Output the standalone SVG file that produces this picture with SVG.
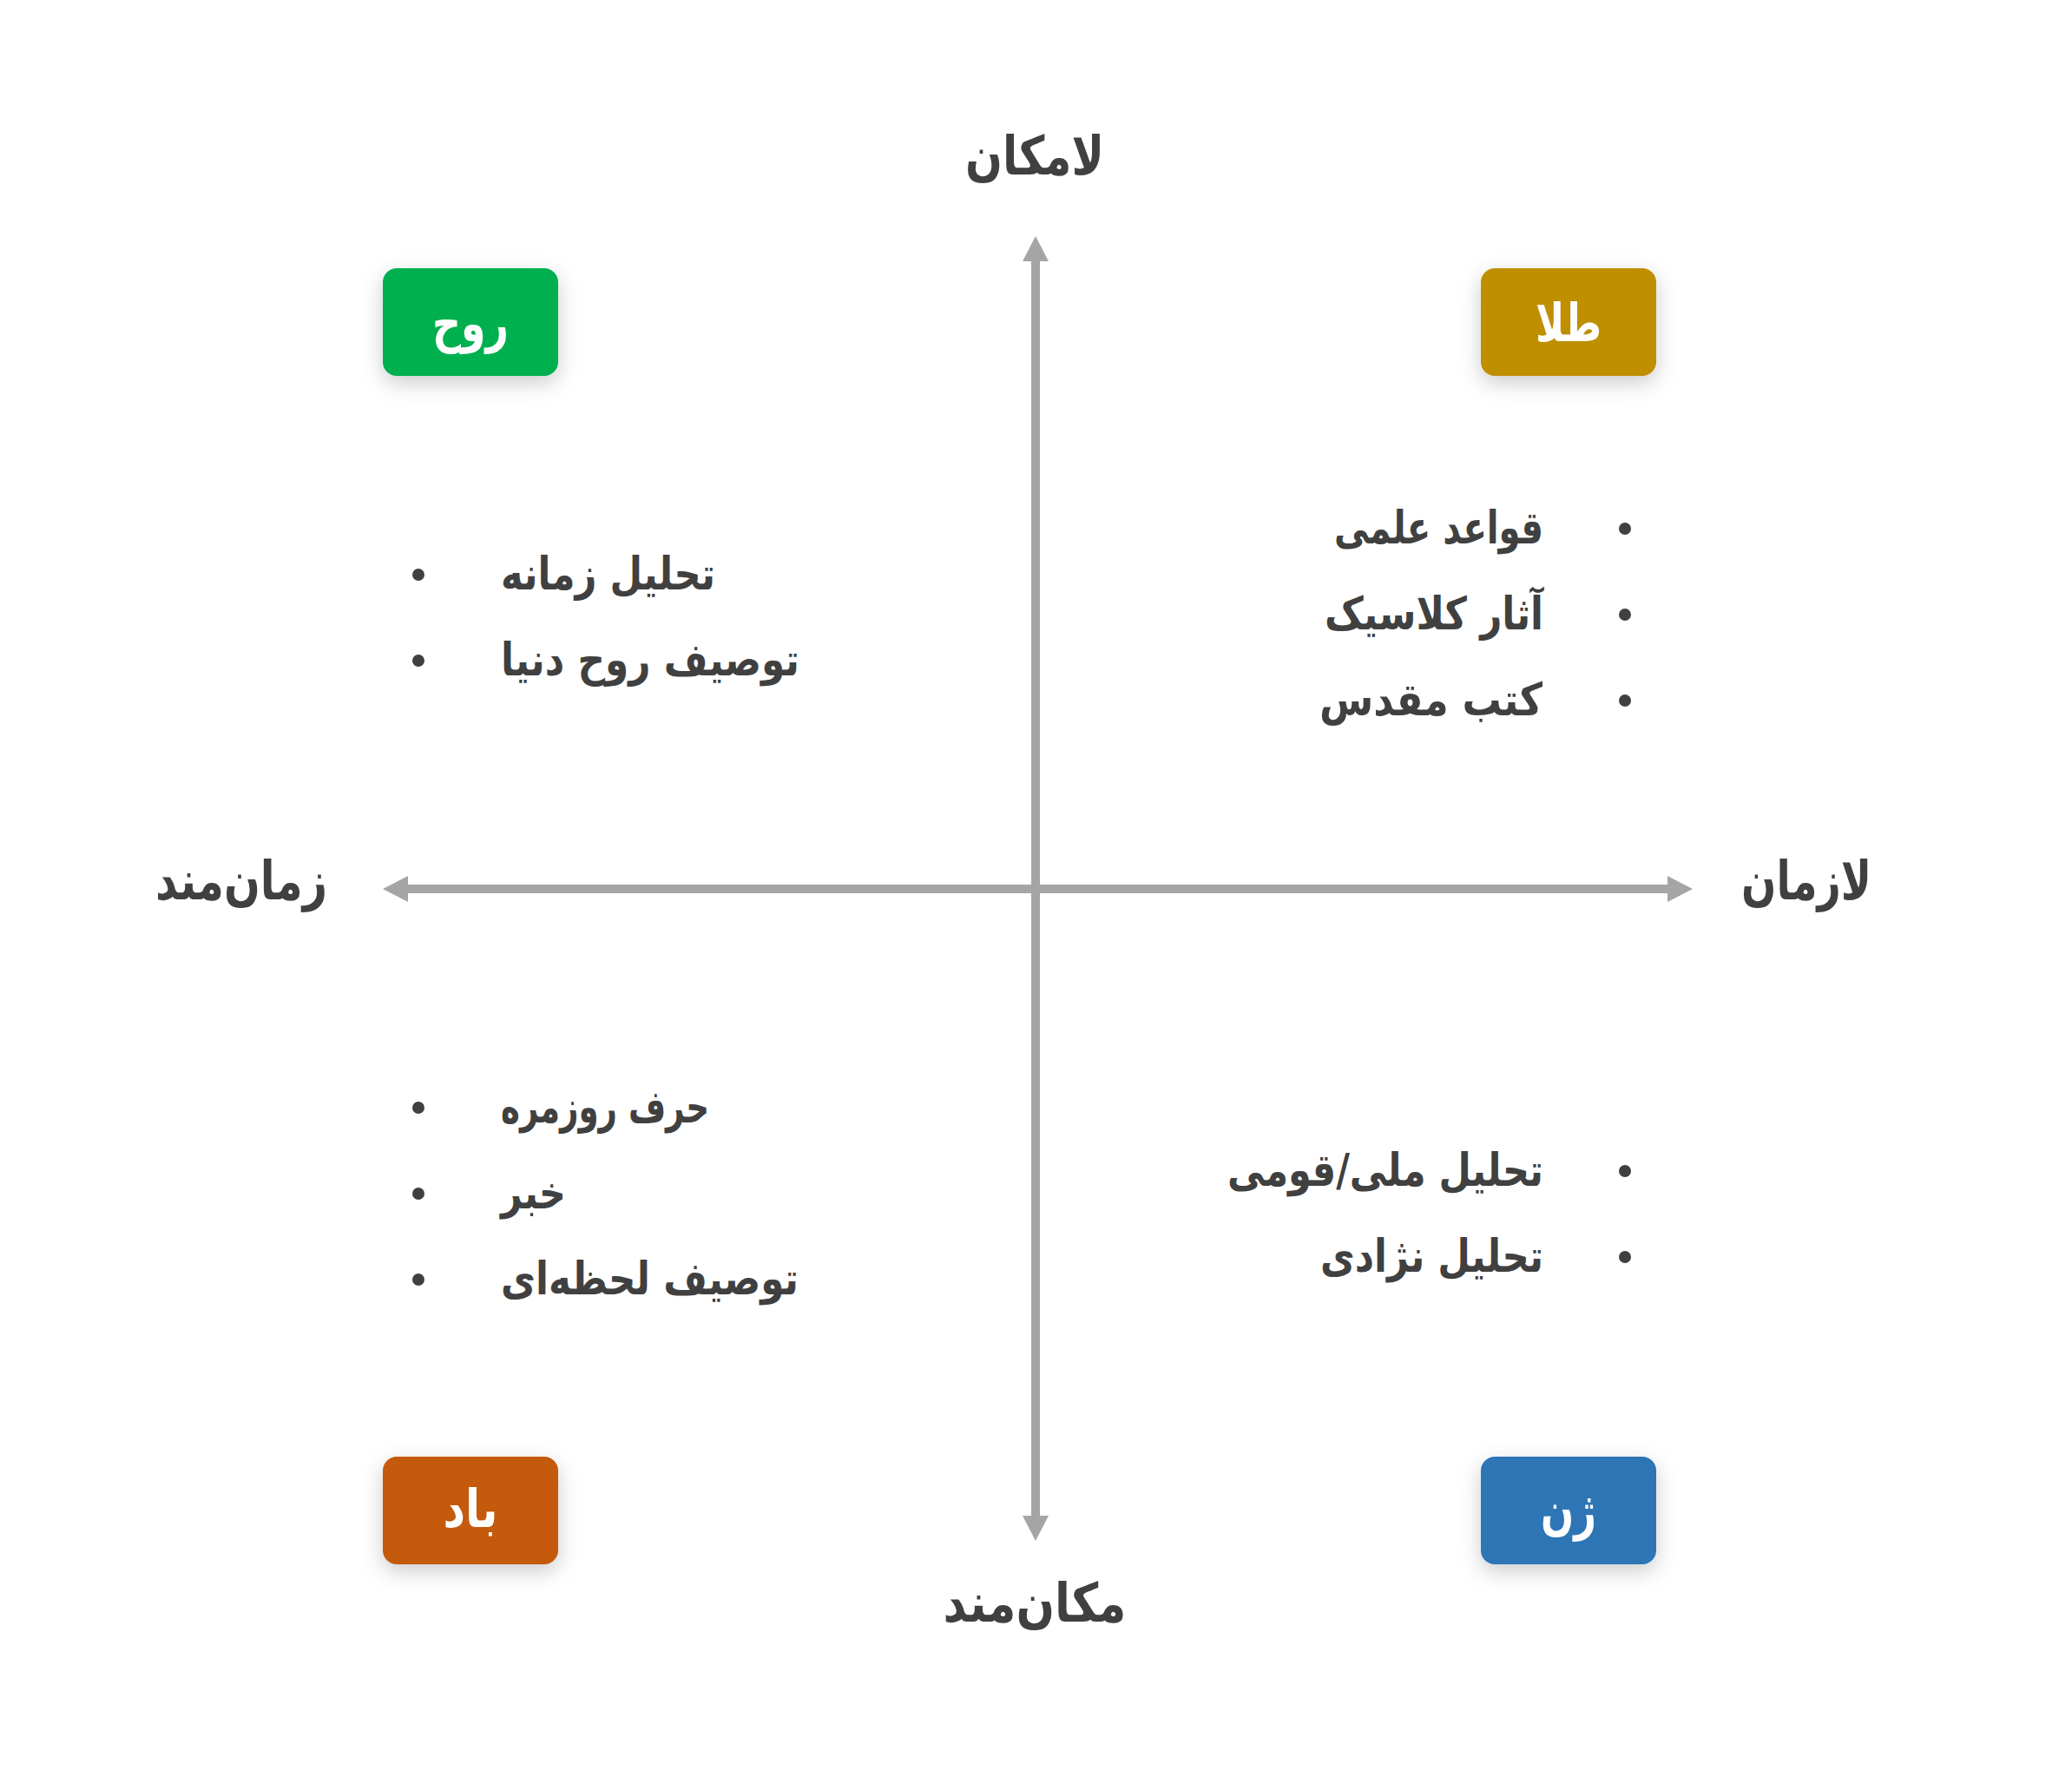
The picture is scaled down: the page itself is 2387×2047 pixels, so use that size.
<svg xmlns="http://www.w3.org/2000/svg" width="2387" height="2047" viewBox="0 0 2387 2047">
<style>
text{font-family:"DejaVu Sans","Noto Sans",sans-serif;font-weight:bold;}
.lbl{font-size:62px;fill:#404040;text-anchor:middle;}
.box{font-size:60px;fill:#FFFFFF;text-anchor:middle;}
.li{font-size:52px;fill:#404040;}
.r{text-anchor:end;}
.l{text-anchor:start;}
.axis{stroke:#A5A5A5;stroke-width:10;fill:none;}
.dot{fill:#404040;}
</style>
<defs>
<filter id="sh" x="-30%" y="-30%" width="160%" height="180%">
<feDropShadow dx="0" dy="8" stdDeviation="12" flood-color="#000" flood-opacity="0.2"/>
</filter>
<marker id="ah" markerUnits="userSpaceOnUse" markerWidth="30" markerHeight="30" refX="0" refY="15" orient="auto-start-reverse" viewBox="0 0 30 30">
<path d="M0,0 L29,15 L0,30 Z" fill="#A5A5A5"/>
</marker>
</defs>
<rect width="2387" height="2047" fill="#FFFFFF"/>
<g id="connectors">
<line class="axis" x1="470" y1="1024" x2="1921" y2="1024" marker-start="url(#ah)" marker-end="url(#ah)"/>
<line class="axis" x1="1193" y1="301" x2="1193" y2="1746" marker-start="url(#ah)" marker-end="url(#ah)"/>
</g>
<g id="label-top"><text class="lbl" x="1192" y="201" textLength="160" lengthAdjust="spacingAndGlyphs">لامکان</text></g>
<g id="label-bottom"><text class="lbl" x="1192" y="1868" textLength="211" lengthAdjust="spacingAndGlyphs">مکان‌مند</text></g>
<g id="label-left"><text class="lbl" x="278" y="1036" textLength="198" lengthAdjust="spacingAndGlyphs">زمان‌مند</text></g>
<g id="label-right"><text class="lbl" x="2081" y="1036" textLength="150" lengthAdjust="spacingAndGlyphs">لازمان</text></g>
<g id="node-ruh"><rect x="441" y="309" width="202" height="124" rx="16" fill="#00B050" filter="url(#sh)"/><text class="box" x="542" y="393" textLength="88" lengthAdjust="spacingAndGlyphs">روح</text></g>
<g id="node-tala"><rect x="1706" y="309" width="202" height="124" rx="16" fill="#BF8F00" filter="url(#sh)"/><text class="box" x="1807" y="393" textLength="76" lengthAdjust="spacingAndGlyphs">طلا</text></g>
<g id="node-bad"><rect x="441" y="1678" width="202" height="124" rx="16" fill="#C55A11" filter="url(#sh)"/><text class="box" x="542" y="1759" textLength="63" lengthAdjust="spacingAndGlyphs">باد</text></g>
<g id="node-zhen"><rect x="1706" y="1678" width="202" height="124" rx="16" fill="#2E75B6" filter="url(#sh)"/><text class="box" x="1807" y="1761" textLength="64" lengthAdjust="spacingAndGlyphs">ژن</text></g>
<g id="list-top-left">
<circle class="dot" cx="482" cy="662" r="7"/><text class="li l" x="577" y="679" textLength="247" lengthAdjust="spacingAndGlyphs">تحلیل زمانه</text>
<circle class="dot" cx="482" cy="761" r="7"/><text class="li l" x="577" y="778" textLength="344" lengthAdjust="spacingAndGlyphs">توصیف روح دنیا</text>
</g>
<g id="list-top-right">
<circle class="dot" cx="1872" cy="609" r="7"/><text class="li r" x="1778" y="626" textLength="241" lengthAdjust="spacingAndGlyphs">قواعد علمی</text>
<circle class="dot" cx="1872" cy="708" r="7"/><text class="li r" x="1778" y="725" textLength="252" lengthAdjust="spacingAndGlyphs">آثار کلاسیک</text>
<circle class="dot" cx="1872" cy="807" r="7"/><text class="li r" x="1777" y="824" textLength="257" lengthAdjust="spacingAndGlyphs">کتب مقدس</text>
</g>
<g id="list-bottom-left">
<circle class="dot" cx="482" cy="1276" r="7"/><text class="li l" x="577" y="1293" textLength="240" lengthAdjust="spacingAndGlyphs">حرف روزمره</text>
<circle class="dot" cx="482" cy="1375" r="7"/><text class="li l" x="577" y="1392" textLength="75" lengthAdjust="spacingAndGlyphs">خبر</text>
<circle class="dot" cx="482" cy="1474" r="7"/><text class="li l" x="577" y="1491" textLength="343" lengthAdjust="spacingAndGlyphs">توصیف لحظه‌ای</text>
</g>
<g id="list-bottom-right">
<circle class="dot" cx="1872" cy="1349" r="7"/><text class="li r" x="1778" y="1366" textLength="364" lengthAdjust="spacingAndGlyphs">تحلیل ملی/قومی</text>
<circle class="dot" cx="1872" cy="1448" r="7"/><text class="li r" x="1778" y="1465" textLength="257" lengthAdjust="spacingAndGlyphs">تحلیل نژادی</text>
</g>
</svg>
